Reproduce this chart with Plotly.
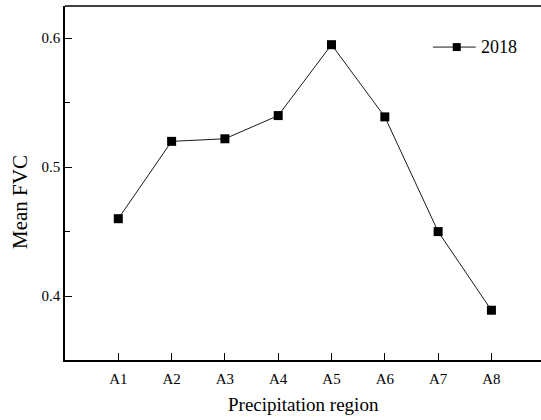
import plotly.graph_objects as go

# Mean fractional vegetation cover per precipitation region, 2018
regions = ["A1", "A2", "A3", "A4", "A5", "A6", "A7", "A8"]
fvc_2018 = [0.460, 0.520, 0.522, 0.540, 0.595, 0.539, 0.450, 0.389]
y_ticks = [0.4, 0.5, 0.6]
series_name = "2018"

FONT = "Liberation Serif, Times New Roman, serif"
LINE_COLOR = "#1a1a1a"

fig = go.Figure()
fig.add_trace(go.Scatter(
    x=regions,
    y=fvc_2018,
    mode="lines+markers",
    name=series_name,
    showlegend=False,
    line=dict(color=LINE_COLOR, width=1),
    marker=dict(symbol="square", size=9, color="black"),
))

fig.update_layout(
    width=541,
    height=420,
    margin=dict(l=65, r=0, t=6, b=60),
    paper_bgcolor="white",
    plot_bgcolor="white",
    font=dict(family=FONT, size=15, color="black"),
)

fig.update_xaxes(
    type="category",
    range=[-1, 7.93],
    showline=True, linecolor="black", linewidth=1.5,
    mirror=False,
    ticks="inside", ticklen=7, tickwidth=1.2, tickcolor="black",
    showgrid=False, zeroline=False,
    tickfont=dict(family=FONT, size=15),
    ticklabelstandoff=4,
)

fig.update_yaxes(
    range=[0.3504, 0.625],
    tickvals=y_ticks,
    ticktext=[f"{v:.1f}" for v in y_ticks],
    showline=True, linecolor="black", linewidth=1.5,
    ticks="inside", ticklen=7, tickwidth=1.2, tickcolor="black",
    minor=dict(dtick=0.05, tick0=0.35, ticks="inside", ticklen=5, tickwidth=1.2, tickcolor="black", showgrid=False),
    showgrid=False, zeroline=False,
    tickfont=dict(family=FONT, size=15),
)

# Axis titles
fig.add_annotation(text="Precipitation region", xref="paper", yref="paper",
                   x=0.5, y=-0.125, xanchor="center", yanchor="middle",
                   showarrow=False, font=dict(family=FONT, size=19))
fig.add_annotation(text="Mean FVC", xref="paper", yref="paper",
                   x=-0.094, y=0.447, xanchor="center", yanchor="middle",
                   textangle=-90, showarrow=False, font=dict(family=FONT, size=21))

# Top border line across the plotting area
fig.add_shape(type="line", xref="paper", yref="paper", x0=0, x1=1, y0=1, y1=1,
              line=dict(color="black", width=1.5))

# Legend key: line with a centred square, followed by the series label
leg_y = 0.884
fig.add_shape(type="line", xref="paper", yref="paper", x0=0.773, x1=0.863,
              y0=leg_y, y1=leg_y, line=dict(color=LINE_COLOR, width=1))
fig.add_shape(type="rect", xref="paper", yref="paper",
              xsizemode="pixel", ysizemode="pixel",
              xanchor=0.823, yanchor=leg_y, x0=-4, x1=4, y0=-4, y1=4,
              line=dict(width=0), fillcolor="black")
fig.add_annotation(text=series_name, xref="paper", yref="paper",
                   x=0.869, y=leg_y, xanchor="left", yanchor="middle",
                   showarrow=False, font=dict(family=FONT, size=18))

fig.write_html("out.html")
